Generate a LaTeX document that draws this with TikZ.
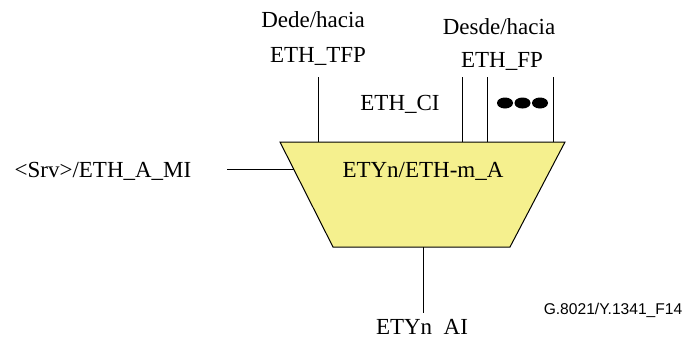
\documentclass[tikz,border=0pt]{standalone}
\usepackage{fontspec}
\setmainfont{Liberation Serif}
\newfontfamily\tagfont{Liberation Sans}
\usetikzlibrary{positioning}
\definecolor{blockfill}{RGB}{245,240,142}
\tikzstyle{port text}=[inner sep=0pt,anchor=base,font=\fontsize{11.5}{13}\selectfont]
\tikzstyle{tag text}=[inner sep=0pt,anchor=base,font=\tagfont\fontsize{7.8}{9}\selectfont]
\tikzstyle{wire}=[draw,line width=0.5pt,-]
\tikzstyle{block}=[draw,line width=0.5pt,fill=blockfill]

\begin{document}
\begin{tikzpicture}[x=0.5pt,y=-0.5pt]
    \clip (0,0) rectangle (686,338);
    % First the adaptation block
    \coordinate (TL) at (280,142);
    \coordinate (TR) at (565,142);
    \coordinate (BR) at (510,247);
    \coordinate (BL) at (333,247);
    \path[block] (TL) -- (TR) -- (BR) -- (BL) -- cycle;
    \node[port text] (fn) at (423,177) {ETYn/ETH-m\_A};

    % Access points on top of the block
    \foreach \name/\x in {tfp/318, ci/462, fpa/487, fpb/553}
    {
        \coordinate (\name end) at (\x,77);
        \coordinate (\name) at (\x,142);
    }
    \foreach \name in {tfp, ci, fpa, fpb}
        \path[wire] (\name end) -- (\name);

    % Management and adapted points
    \coordinate (mi) at (293.5,169);
    \coordinate (mi end) at (227,169);
    \coordinate (ai) at (423,247);
    \coordinate (ai end) at (423,313);
    \path[wire] (mi end) -- (mi);
    \path[wire] (ai) -- (ai end);

    % Further flow points
    \foreach \x in {505,522.5,540}
        \fill (\x,103) ellipse [x radius=8,y radius=5.5];

    % Texts
    \node[port text] (tfp from) at (313,27) {Dede/hacia};
    \node[port text] (tfp name) at (318,62) {ETH\_TFP};
    \node[port text] (fp from) at (499,34) {Desde/hacia};
    \node[port text] (fp name) at (502,67) {ETH\_FP};
    \node[port text] (ci name) at (400,110) {ETH\_CI};
    \node[port text] (mi name) at (103,177) {<Srv>/ETH\_A\_MI};
    \node[port text] (ai name) at (422,334) {ETYn\phantom{\_}AI};
    \node[tag text] (tag) at (613,314) {G.8021/Y.1341\_F14};
\end{tikzpicture}
\end{document}
